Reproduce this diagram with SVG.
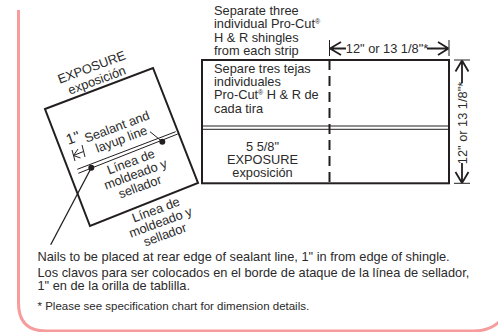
<svg xmlns="http://www.w3.org/2000/svg" width="498" height="332" viewBox="0 0 498 332">
<defs><style>
text{font-family:"Liberation Sans",Arial,sans-serif;font-size:12.800px;fill:#2b2a2a}
.m{text-anchor:middle}
.l{fill:none;stroke:#231f20}
.b{stroke-width:2}
.t{stroke-width:1}
.sup{font-size:7px}
</style></defs>
<rect width="498" height="332" fill="#fff"/>
<path id="border" d="M18.500 10V303Q18.500 331 46 331H474Q489 331 499 322" fill="none" stroke="#f79c9c" stroke-width="3"/>
<g id="connectors">
<path class="l t" d="M77.300 169.300L175.700 131.700M78.300 173.300L177.700 134"/>
<path class="l" stroke-width="1.300" d="M91.300 167.700L50.700 244.700"/>
<path class="l t" d="M150 131.700L162.300 141.700"/>
<path class="l t" d="M72 150L75 161M82 145L85 157M73.500 155.500L83.500 151.500M73.500 155.500L78 149M73.500 155.500L80.500 158"/>
<path class="l t" d="M329.500 40V56M449 40V56M454 60H470M454 183.300H470"/>
<path class="l" stroke-width="1.800" d="M330 48.500H346M330 48.500L341 42M330 48.500L341 55M427 48.500H448.500M448.500 48.500L438 42M448.500 48.500L438 55"/>
<path class="l" stroke-width="1.800" d="M462 60.500V83M462 60.500L455.500 71.500M462 60.500L468.500 71.500M462 163V183M462 183L455.500 172M462 183L468.500 172"/>
</g>
<g id="tilted-shingle">
<path class="l b" d="M45 109L153 68L198 183L90 226Z"/>
<circle cx="162.300" cy="141.700" r="3" fill="#231f20"/>
<circle cx="91.300" cy="167.700" r="3" fill="#231f20"/>
<text class="m" y="4" transform="translate(91.700 67.500) rotate(-20.500)">EXPOSURE</text>
<text class="m" y="4" transform="translate(97 80.500) rotate(-20.500)">exposición</text>
<text class="m" y="4" transform="translate(117 127) rotate(-20.500)">Sealant and</text>
<text class="m" y="4" transform="translate(121.500 139.500) rotate(-20.500)">layup line</text>
<text class="m" y="4" transform="translate(131 162) rotate(-20.500)">Línea de</text>
<text class="m" y="4" transform="translate(135.500 174.500) rotate(-20.500)">moldeado y</text>
<text class="m" y="4" transform="translate(140 187) rotate(-20.500)">sellador</text>
<text class="m" y="4" transform="translate(156 210) rotate(-20.500)">Línea de</text>
<text class="m" y="4" transform="translate(160.500 222.500) rotate(-20.500)">moldeado y</text>
<text class="m" y="4" transform="translate(165 235) rotate(-20.500)">sellador</text>
<text class="m" y="5" style="font-size:15px" transform="translate(73 138) rotate(-20.500)">1"</text>
</g>
<g id="strip">
<rect class="l b" x="202" y="60" width="247" height="123.300"/>
<path class="l t" d="M202 126H449M202 129.300H449"/>
<path class="l" stroke-width="2" stroke-dasharray="10 6" d="M329.500 60V183"/>
<text x="214" y="15">Separate three</text>
<text x="214" y="28">individual Pro-Cut<tspan class="sup" dy="-4">®</tspan></text>
<text x="214" y="41.700">H &amp; R shingles</text>
<text x="214" y="55">from each strip</text>
<text x="214" y="73">Separe tres tejas</text>
<text x="214" y="86">individuales</text>
<text x="214" y="99">Pro-Cut<tspan class="sup" dy="-4">®</tspan><tspan dy="4"> H &amp; R de</tspan></text>
<text x="214" y="112.700">cada tira</text>
<text class="m" x="262.500" y="150.700">5 5/8"</text>
<text class="m" x="262.500" y="163.500">EXPOSURE</text>
<text class="m" x="262.500" y="177">exposición</text>
<text class="m" x="387" y="53">12" or 13 1/8"*</text>
<text class="m" y="4.500" transform="translate(462 123) rotate(-90)">12" or 13 1/8"*</text>
</g>
<g id="notes">
<text x="37.500" y="260.500">Nails to be placed at rear edge of sealant line, 1" in from edge of shingle.</text>
<text x="37.500" y="277">Los clavos para ser colocados en el borde de ataque de la línea de sellador,</text>
<text x="37.500" y="290">1" en de la orilla de tablilla.</text>
<text x="37.500" y="310" style="font-size:11.500px">* Please see specification chart for dimension details.</text>
</g>
</svg>
